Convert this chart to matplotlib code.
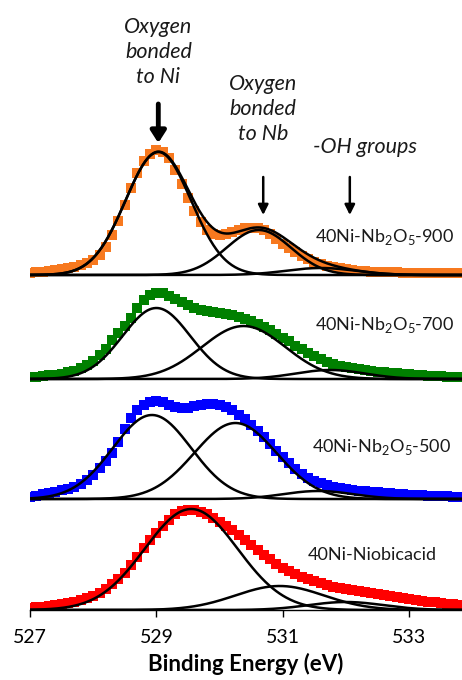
import numpy as np
import matplotlib
matplotlib.use("Agg")
import matplotlib.pyplot as plt

plt.rcParams['font.family'] = ['Lato', 'DejaVu Sans']
plt.rcParams['mathtext.fontset'] = 'custom'
plt.rcParams['mathtext.rm'] = 'Lato'

# binding energy grid (eV), 0.1 eV steps as in the spectra
energy = np.linspace(527.0, 533.8, 69)

# O 1s intensities (a.u.)
int_900 = [2, 3, 3, 4, 5, 6, 7, 8, 10, 12,
           15, 20, 28, 40, 54, 70, 87, 102, 114, 121,
           125, 123, 117, 105, 91, 77, 64, 53, 45, 41,
           40, 41, 43, 45, 47, 47, 47, 45, 41, 36,
           31, 27, 23, 19, 16, 13, 11, 9, 8, 7,
           6, 5, 4, 4, 3, 3, 3, 3, 3, 2,
           2, 2, 2, 2, 2, 2, 2, 2, 2]
int_700 = [2, 2, 3, 4, 4, 5, 7, 8, 11, 14,
           18, 24, 30, 39, 46, 53, 61, 71, 79, 84,
           86, 86, 83, 80, 77, 74, 71, 69, 68, 67,
           66, 65, 64, 62, 60, 58, 55, 52, 49, 45,
           41, 38, 33, 30, 26, 23, 20, 17, 15, 13,
           12, 11, 10, 9, 8, 7, 7, 6, 6, 5,
           5, 4, 4, 3, 3, 3, 2, 2, 2]
int_500 = [2, 3, 5, 6, 7, 9, 10, 12, 15, 19,
           24, 31, 38, 46, 57, 70, 81, 89, 94, 97,
           98, 97, 94, 92, 91, 91, 93, 94, 95, 95,
           94, 92, 89, 84, 80, 74, 68, 62, 55, 48,
           42, 36, 30, 25, 21, 18, 16, 14, 12, 11,
           10, 9, 8, 8, 7, 7, 6, 6, 5, 5,
           4, 4, 4, 3, 3, 3, 3, 2, 2]
int_acid = [2, 3, 3, 4, 5, 6, 7, 8, 10, 12,
            14, 17, 21, 26, 31, 37, 45, 53, 62, 70,
            77, 84, 90, 96, 99, 100, 100, 98, 96, 92,
            88, 84, 80, 75, 70, 65, 60, 55, 51, 46,
            42, 39, 36, 33, 31, 29, 27, 25, 23, 22,
            21, 20, 19, 18, 17, 16, 15, 14, 13, 12,
            11, 10, 9, 8, 8, 7, 6, 6, 5]

# fitted components: centre (eV), height (a.u.), FWHM (eV)
fit_900 = [(529.03, 123, 1.22), (530.62, 45, 1.20), (531.60, 7, 1.30)]
fit_700 = [(529.00, 71, 1.26), (530.38, 53, 1.55), (531.75, 9, 1.30)]
fit_500 = [(528.93, 84, 1.46), (530.25, 76, 1.53), (531.56, 8, 1.30)]
fit_acid = [(529.55, 101, 1.73), (530.95, 24, 1.65), (532.00, 8, 1.40)]

labels = ['40Ni-Nb$_\\mathregular{2}$O$_\\mathregular{5}$-900',
          '40Ni-Nb$_\\mathregular{2}$O$_\\mathregular{5}$-700',
          '40Ni-Nb$_\\mathregular{2}$O$_\\mathregular{5}$-500',
          '40Ni-Niobicacid']
offsets = [335, 231, 111, 0]
colors = ['#F7791F', '#008000', '#0000FF', '#FF0000']
label_pos = [(531.51, 373), (531.51, 285), (531.46, 163), (531.40, 55)]


def gauss(x, c, h, fwhm):
    s = fwhm / 2.3548
    return h * np.exp(-(x - c) ** 2 / (2 * s ** 2))


fig = plt.figure(figsize=(4.62, 6.8), dpi=100)
ax = fig.add_axes([30 / 462, 70 / 680, 432 / 462, 480 / 680])

xs = np.linspace(527.0, 533.85, 400)
spectra = [int_900, int_700, int_500, int_acid]
fits = [fit_900, fit_700, fit_500, fit_acid]
for i, (y, comps) in enumerate(zip(spectra, fits)):
    off = offsets[i]
    ax.plot(energy, np.array(y) + off, ls='none', marker='s', ms=6.6,
            mew=0, color=colors[i], zorder=2)
    total = np.zeros_like(xs)
    for c, h, w in comps:
        g = gauss(xs, c, h, w)
        total += g
        ax.plot(xs, g + off, color='black', lw=1.8, zorder=3)
    if i == 0:
        ax.plot(xs, total + off, color='black', lw=1.8, zorder=3)
    ax.text(label_pos[i][0], label_pos[i][1], labels[i], fontsize=13,
            ha='left', va='center', color='#1a1a1a')

# peak assignments
ax.text(529.03, 558, 'Oxygen\nbonded\nto Ni', style='italic', fontsize=15.5,
        ha='center', va='center', linespacing=1.3, color='#1a1a1a')
ax.text(530.69, 501, 'Oxygen\nbonded\nto Nb', style='italic', fontsize=15.5,
        ha='center', va='center', linespacing=1.3, color='#1a1a1a')
ax.text(532.3, 463, '-OH groups', style='italic', fontsize=15.5,
        ha='center', va='center', color='#1a1a1a')
ax.annotate('', xy=(529.03, 467), xytext=(529.03, 506),
            arrowprops=dict(arrowstyle='-|>,head_width=0.45,head_length=0.7',
                            lw=3.5, color='black', shrinkA=0, shrinkB=0))
for xa in [530.69, 532.06]:
    ax.annotate('', xy=(xa, 395), xytext=(xa, 433),
                arrowprops=dict(arrowstyle='-|>,head_width=0.3,head_length=0.6',
                                lw=1.8, color='black', shrinkA=0, shrinkB=0))

ax.set_xlim(527, 533.835)
ax.set_ylim(0, 480)
ax.set_xticks([527, 529, 531, 533])
ax.tick_params(axis='x', direction='out', length=5, width=1, labelsize=14, pad=9)
ax.set_yticks([])
for s in ['left', 'right', 'top']:
    ax.spines[s].set_visible(False)
ax.spines['bottom'].set_linewidth(1)
ax.set_xlabel('Binding Energy (eV)', fontsize=16, fontweight='bold', labelpad=5)

fig.savefig('out.png', dpi=100)
